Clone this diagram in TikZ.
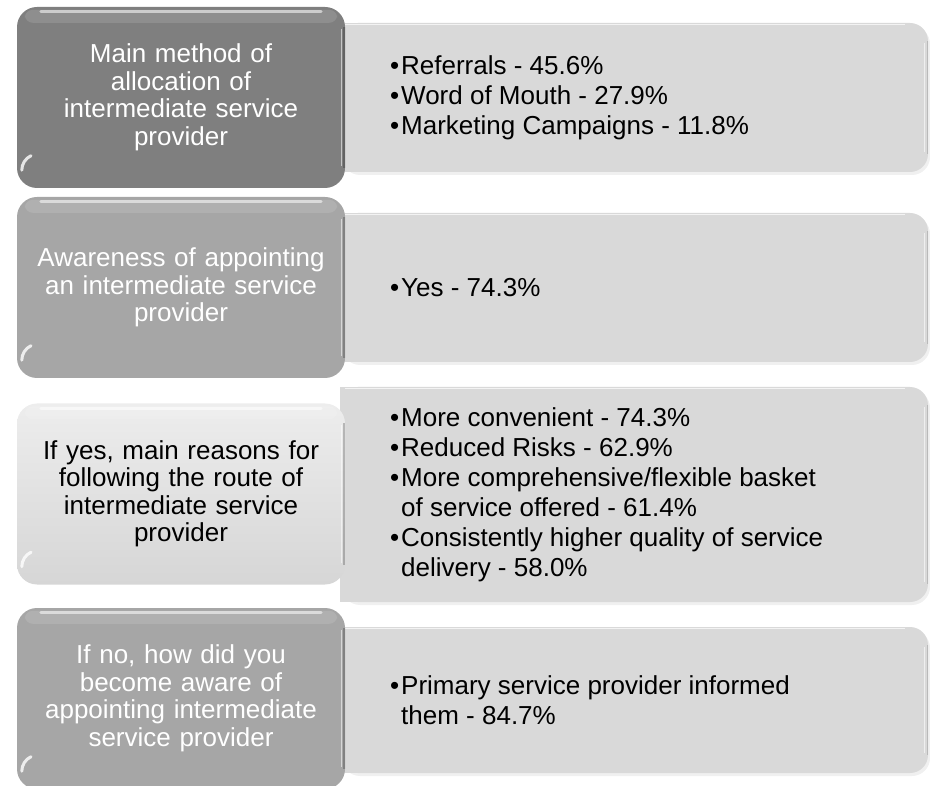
\documentclass[tikz,border=0pt]{standalone}
\usepackage{fontspec}
\setmainfont{Liberation Sans}
\definecolor{rfill}{HTML}{D9D9D9}
\definecolor{lone}{HTML}{7F7F7F}
\definecolor{ltwo}{HTML}{A6A6A6}
\definecolor{lthreetop}{HTML}{EDEDED}
\definecolor{lthreebot}{HTML}{D6D6D6}
\newcommand\bul{\makebox[11pt][l]{\textbullet}}
\newcommand\ind{\hspace*{11pt}}
\begin{document}
\begin{tikzpicture}[x=1pt,y=-1pt,
  font=\fontsize{26}{30}\selectfont,
  leftbox/.style={rounded corners=20pt, minimum width=328pt, minimum height=181pt,
    align=center, text width=310pt, inner sep=0pt, font=\fontsize{26}{27.5}\selectfont},
  rightbox/.style={fill=rfill, rounded corners=18pt},
  righttext/.style={anchor=west, align=left, inner sep=0pt, text=black},
  hilite/.style={white, opacity=.55, line width=3pt, line cap=round},
  topband/.style={white, opacity=.12, rounded corners=8pt},
  edgeshade/.style={black, opacity=.22, line width=1.6pt},
  cornerlite/.style={white, opacity=.8, line width=3pt, line cap=round}]
\useasboundingbox (0,0) rectangle (930,786);

% ---------- right boxes ----------
\foreach \ya/\yb in {23/172, 213/362, 387/602, 627/773}{
  \fill[black,opacity=.06] (342,\ya+3) [rounded corners=18pt] rectangle (930,\yb+3);
  \fill[rightbox] (340,\ya) rectangle (928,\yb);
  \fill[rfill] (340,\ya) rectangle (400,\yb);
  \draw[white,opacity=.7,line width=1.2pt] (345,\ya+1.5) -- (905,\ya+1.5);
  \draw[gray,opacity=.35,line width=1pt] (927,\ya+18) -- (927,\yb-18);
  \draw[white,opacity=.6,line width=1pt] (924,\ya+20) -- (924,\yb-20);
}

% ---------- left boxes ----------
\node[leftbox, fill=lone, text=white] (l1) at (181,97.5)
  {Main method of\\allocation of\\intermediate service\\provider};
\node[leftbox, fill=ltwo, text=white] (l2) at (181,287.5)
  {Awareness of appointing\\an intermediate service\\provider};
\node[leftbox, top color=lthreetop, bottom color=lthreebot, text=black] (l3) at (181,494)
  {If yes, main reasons for\\following the route of\\intermediate service\\provider};
\node[leftbox, fill=ltwo, text=white] (l4) at (181,698.5)
  {If no, how did you\\become aware of\\appointing intermediate\\service provider};

\foreach \n in {l1,l2,l3,l4}{
  \fill[topband] ([xshift=8pt,yshift=-3pt]\n.north west) rectangle ([xshift=-8pt,yshift=-16pt]\n.north east);
  \draw[hilite] ([xshift=24pt,yshift=-5pt]\n.north west) -- ([xshift=-24pt,yshift=-5pt]\n.north east);
  \draw[edgeshade] ([xshift=-1pt,yshift=-20pt]\n.north east) -- ([xshift=-1pt,yshift=20pt]\n.south east);
  \draw[white,opacity=.55,line width=1.2pt] ([xshift=-3.5pt,yshift=-22pt]\n.north east) -- ([xshift=-3.5pt,yshift=22pt]\n.south east);
  \draw[cornerlite] ([xshift=5pt,yshift=18pt]\n.south west) arc[start angle=180,end angle=115,radius=16pt];
}

% ---------- right texts ----------
\node[righttext] (r1) at (390,97.5)
  {\bul Referrals - 45.6\%\\\bul Word of Mouth - 27.9\%\\\bul Marketing Campaigns - 11.8\%};
\node[righttext] (r2) at (390,287.5)
  {\bul Yes - 74.3\%};
\node[righttext] (r3) at (390,495)
  {\bul More convenient - 74.3\%\\\bul Reduced Risks - 62.9\%\\\bul More comprehensive/flexible basket\\\ind of service offered - 61.4\%\\\bul Consistently higher quality of service\\\ind delivery - 58.0\%};
\node[righttext] (r4) at (390,700)
  {\bul Primary service provider informed\\\ind them - 84.7\%};
\end{tikzpicture}
\end{document}
